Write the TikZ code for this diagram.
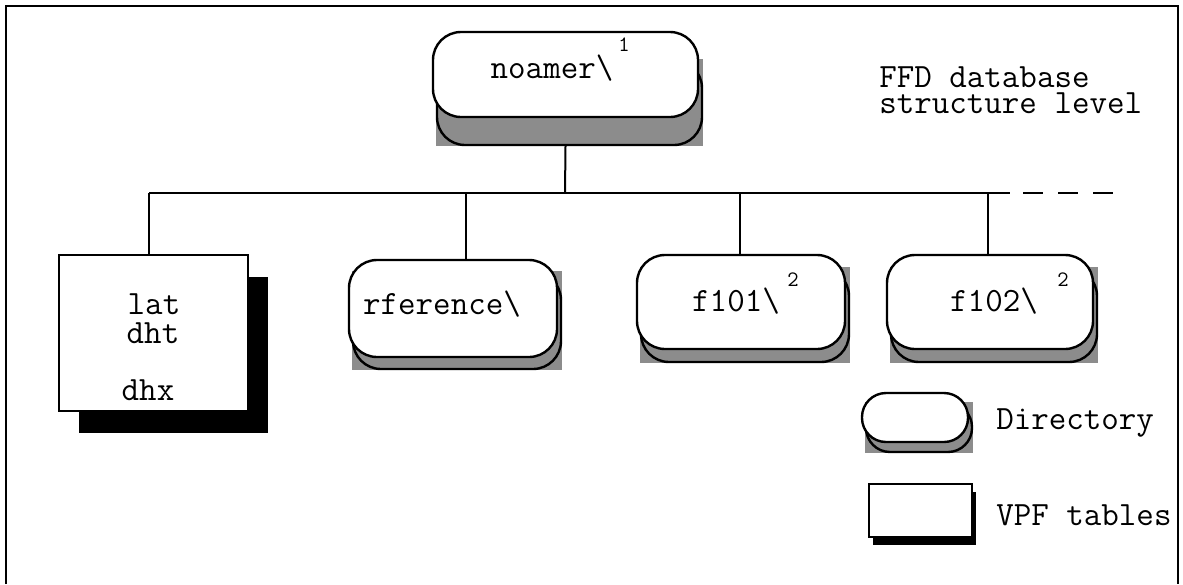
\documentclass[tikz,border=0pt]{standalone}
\usepackage{fontspec}
\usetikzlibrary{shadows,backgrounds}
\tikzset{
  dirbox/.style={draw, line width=1.2pt, fill=white, rounded corners=14pt, inner sep=0pt,
    drop shadow={shadow xshift=2pt, shadow yshift=#1, fill=black!45, draw=black, opacity=1}},
  dirbox/.default=-6pt,
  tabbox/.style n args={2}{draw, line width=1.2pt, fill=white, inner sep=0pt,
    drop shadow={shadow xshift=#1, shadow yshift=#2, fill=black, opacity=1}},
  txt/.style={font=\ttfamily\fontsize{17}{13}\selectfont, inner sep=0pt},
  supnum/.style={font=\ttfamily\fontsize{11}{11}\selectfont, inner sep=0pt},
  link/.style={line width=1pt}
}
\begin{document}
\begin{tikzpicture}[x=0.5pt,y=-0.5pt]
\useasboundingbox (0,0) rectangle (1183,584);

%Frame
\draw [line width=1pt] (5.5,584) -- (5.5,6) -- (1177.5,6) -- (1177.5,584);

%Directories and tables
\node [dirbox=-14pt, minimum width=132.5pt, minimum height=42.5pt] (noamer) at (565.5,74.5) {};
\node [tabbox={10pt}{-11pt}, minimum width=94.5pt, minimum height=78pt] (lat) at (153.5,333) {};
\node [dirbox, minimum width=104pt, minimum height=48.5pt] (rfer) at (453,308.5) {};
\node [dirbox=-6.5pt, minimum width=104pt, minimum height=47pt] (f101) at (741,302) {};
\node [dirbox=-6.5pt, minimum width=103pt, minimum height=47pt] (f102) at (990,302) {};

%Legend
\node [dirbox=-5pt, rounded corners=12pt, minimum width=53pt, minimum height=24.5pt] (legdir) at (915,417.5) {};
\node [tabbox={2pt}{-4pt}, minimum width=51.5pt, minimum height=26.5pt] (legvpf) at (920.5,510.5) {};

%square backing of the directory shadows
\begin{pgfonlayer}{background}
\foreach \b/\s in {noamer/-14pt, rfer/-6pt, f101/-6.5pt, f102/-6.5pt, legdir/-5pt}
  \fill [black!45] ([xshift=2pt, yshift=\s]\b.north west) rectangle ([xshift=2pt, yshift=\s]\b.south east);
\end{pgfonlayer}

%Bus
\coordinate (busL) at (149,193);
\coordinate (busB) at (466,193);
\coordinate (busM) at (565,193);
\coordinate (busC) at (740,193);
\coordinate (busR) at (988,193);
\coordinate (busS) at (1010,193);
\coordinate (busD) at (1023,193);
\coordinate (busEnd) at (1117,193);
\draw [link] ([shift={(0,28)}]noamer.south) -- (busM);
\draw [link] (busL) -- (busS);
\draw [link, dash pattern=on 10pt off 7.5pt] (busD) -- (busEnd);
\draw [link] (busL) -- (busL |- lat.north);
\draw [link] (busB) -- (busB |- rfer.north);
\draw [link] (busC) -- (busC |- f101.north);
\draw [link] (busR) -- (busR |- f102.north);

% Text Node
\node [txt] (noamerT) at (552,68) {noamer\textbackslash};
\node [supnum] (noamerS) at (624,45) {1};
% Text Node
\node [txt] (latT) at (154,304) {lat};
\node [txt] (dhtT) at (153,333) {dht};
\node [txt] (dhxT) at (148,390) {dhx};
% Text Node
\node [txt] (rferT) at (442,304) {rference\textbackslash};
% Text Node
\node [txt] (f101T) at (736,301) {f101\textbackslash};
\node [supnum] (f101S) at (793,280) {2};
\node [txt] (f102T) at (994,301) {f102\textbackslash};
\node [supnum] (f102S) at (1063,280) {2};
% Text Node
\node [txt, anchor=west] (titleA) at (879,77) {FFD database};
\node [txt, anchor=west] (titleB) at (879,103) {structure level};
\node [txt, anchor=west] (legdirT) at (996,423) {Directory};
\node [txt, anchor=west] (legvpfT) at (996,515) {VPF tables};
\end{tikzpicture}
\end{document}
